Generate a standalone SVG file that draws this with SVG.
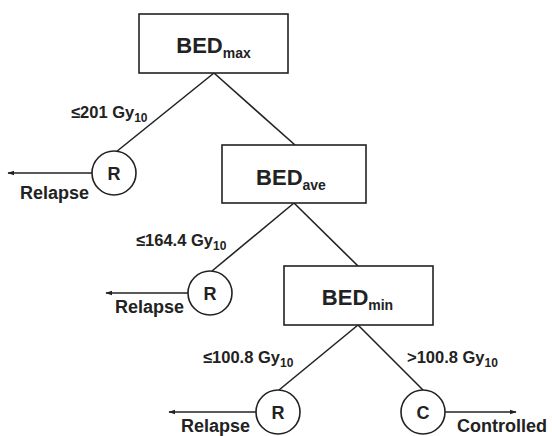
<svg xmlns="http://www.w3.org/2000/svg" width="552" height="436" viewBox="0 0 552 436">
<style>
.box{fill:#fff;stroke:#222;stroke-width:1.6}
.circ{fill:#fff;stroke:#222;stroke-width:1.6}
.ln{stroke:#222;stroke-width:1.6;fill:none}
.t{font-family:"Liberation Sans Narrow","Liberation Sans",Arial,sans-serif;font-weight:bold;fill:#222}
.big{font-size:22px}
.sub{font-size:14px}
.lab{font-size:16.5px}
.ss{font-size:12px}
.node{font-size:18px}
.out{font-size:18px}
</style>
<defs>
<marker id="ah" viewBox="0 0 10 10" refX="9" refY="5" markerWidth="7" markerHeight="7" markerUnits="userSpaceOnUse" orient="auto">
<path d="M0,1.5 L10,5 L0,8.5 z" fill="#222"/>
</marker>
</defs>
<g id="connectors">
<line class="ln" x1="214" y1="73" x2="116" y2="152"/>
<line class="ln" x1="214" y1="73" x2="295" y2="145"/>
<line class="ln" x1="294" y1="203" x2="212" y2="271"/>
<line class="ln" x1="294" y1="203" x2="358" y2="266"/>
<line class="ln" x1="358" y1="325" x2="279" y2="390"/>
<line class="ln" x1="358" y1="325" x2="423" y2="390"/>
<line class="ln" x1="92" y1="173" x2="8" y2="173" marker-end="url(#ah)"/>
<line class="ln" x1="188" y1="293" x2="106" y2="293" marker-end="url(#ah)"/>
<line class="ln" x1="256" y1="412" x2="169" y2="412" marker-end="url(#ah)"/>
<line class="ln" x1="445" y1="412" x2="516" y2="412" marker-end="url(#ah)"/>
<text class="t lab" x="71" y="118">≤201 Gy<tspan class="ss" dy="4">10</tspan></text>
<text class="t lab" x="136" y="246">≤164.4 Gy<tspan class="ss" dy="4">10</tspan></text>
<text class="t lab" x="203" y="363">≤100.8 Gy<tspan class="ss" dy="4">10</tspan></text>
<text class="t lab" x="407" y="363">&gt;100.8 Gy<tspan class="ss" dy="4">10</tspan></text>
</g>
<g id="bedmax">
<rect class="box" x="139" y="14" width="149" height="59"/>
<text class="t big" x="213.5" y="53" text-anchor="middle">BED<tspan class="sub" dy="5">max</tspan></text>
</g>
<g id="bedave">
<rect class="box" x="222" y="145" width="144" height="58"/>
<text class="t big" x="291" y="185" text-anchor="middle">BED<tspan class="sub" dy="5">ave</tspan></text>
</g>
<g id="bedmin">
<rect class="box" x="284" y="266" width="149" height="59"/>
<text class="t big" x="357.5" y="305" text-anchor="middle">BED<tspan class="sub" dy="5">min</tspan></text>
</g>
<g id="r1">
<circle class="circ" cx="114" cy="173" r="22"/>
<text class="t node" x="114" y="179.5" text-anchor="middle">R</text>
<text class="t out" x="20" y="199">Relapse</text>
</g>
<g id="r2">
<circle class="circ" cx="210" cy="293" r="22"/>
<text class="t node" x="210" y="299.5" text-anchor="middle">R</text>
<text class="t out" x="115" y="313">Relapse</text>
</g>
<g id="r3">
<circle class="circ" cx="278" cy="412" r="22"/>
<text class="t node" x="278" y="418.5" text-anchor="middle">R</text>
<text class="t out" x="181" y="432">Relapse</text>
</g>
<g id="c">
<circle class="circ" cx="423" cy="412" r="22"/>
<text class="t node" x="423" y="418.5" text-anchor="middle">C</text>
<text class="t out" x="457" y="432">Controlled</text>
</g>
</svg>
